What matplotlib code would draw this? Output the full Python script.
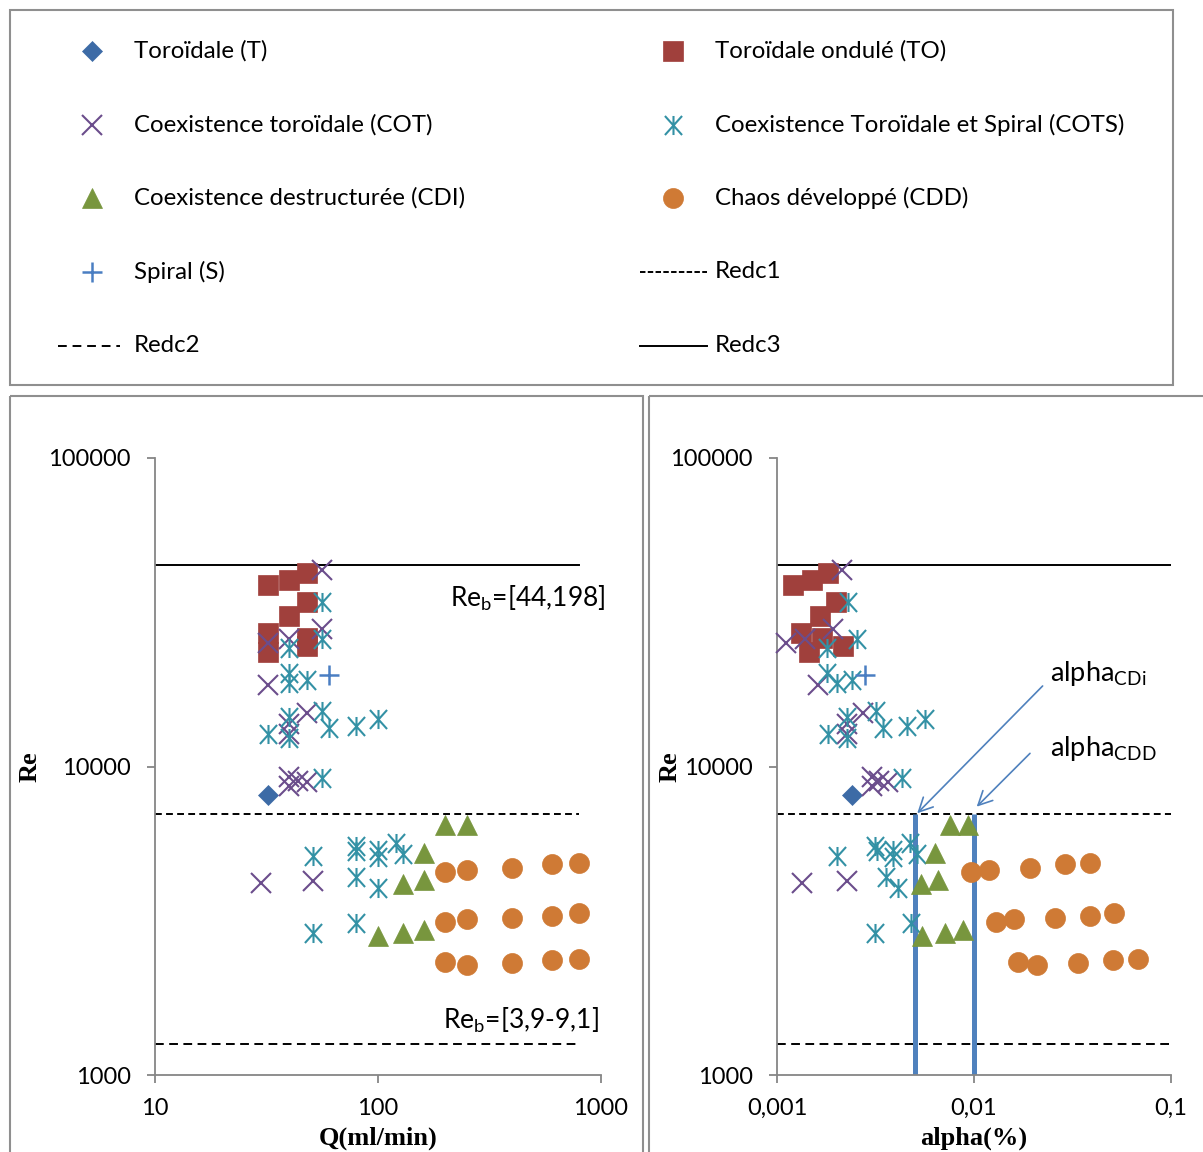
import matplotlib
matplotlib.use("Agg")
import matplotlib.pyplot as plt
from matplotlib.path import Path
from matplotlib.patches import Rectangle
from matplotlib.lines import Line2D

plt.rcParams['font.family'] = ['Lato', 'DejaVu Sans']
plt.rcParams['mathtext.fontset'] = 'custom'
plt.rcParams['mathtext.rm'] = 'Lato'

# ---------------- data ----------------
# Toroïdale (T)
T_Q = [32]
T_alpha = [0.00241]
T_Re = [8080]

# Toroïdale ondulé (TO)
TO_Q = [32, 40, 48, 48, 40, 32, 32, 48, 48]
TO_alpha = [0.00121, 0.00151, 0.00182, 0.00199, 0.00165, 0.00132, 0.00145, 0.00169, 0.00217]
TO_Re = [38760, 40230, 42490, 34210, 30740, 27030, 23560, 26040, 24580]

# Coexistence toroïdale (COT)
COT_Q = [56, 32, 40, 56, 32, 48, 40, 40, 40, 40, 44, 48, 30, 51]
COT_alpha = [0.00213, 0.00111, 0.00139, 0.00193, 0.00162, 0.00274, 0.00226, 0.00226,
             0.00302, 0.00302, 0.00330, 0.00367, 0.001335, 0.00227]
COT_Re = [43350, 25190, 25900, 27910, 18380, 14870, 13730, 12740,
          9268, 8646, 9000, 8928, 4201, 4266]

# Coexistence Toroïdale et Spiral (COTS)
COTS_Q = [56, 56, 40, 40, 40, 48, 32, 40, 40, 56, 60, 80, 100, 56,
          51, 51, 80, 80, 80, 80, 100, 100, 100, 120, 130]
COTS_alpha = [0.00230, 0.00254, 0.00180, 0.00180, 0.00201, 0.00239, 0.00182, 0.00226,
              0.00226, 0.00318, 0.00346, 0.00455, 0.00564, 0.00430,
              0.00201, 0.00314, 0.00314, 0.00321, 0.00358, 0.00479, 0.00389,
              0.00389, 0.00410, 0.00473, 0.00512]
COTS_Re = [34210, 25900, 24160, 20060, 18610, 19070, 12720, 14500, 12400, 15080,
           13300, 13560, 14260, 9157,
           5140, 2880, 5505, 5303, 4373, 3117, 5362, 5101, 4029, 5636, 5206]

# Coexistence destructurée (CDI)
CDI_Q = [200, 250, 160, 130, 160, 100, 130, 160]
CDI_alpha = [0.00755, 0.00935, 0.00634, 0.00538, 0.00659, 0.00547, 0.00713, 0.00883]
CDI_Re = [6440, 6480, 5262, 4160, 4302, 2832, 2896, 2951]

# Chaos développé (CDD)
CDD_Q = [200, 250, 400, 600, 800, 200, 250, 400, 600, 800, 200, 250, 400, 600, 800]
CDD_alpha = [0.00966, 0.01196, 0.01924, 0.02897, 0.03880,
             0.01288, 0.01596, 0.02577, 0.03880, 0.05155,
             0.01667, 0.02096, 0.03383, 0.05058, 0.06775]
CDD_Re = [4560, 4618, 4699, 4820, 4877,
          3140, 3196, 3236, 3284, 3343,
          2319, 2273, 2301, 2359, 2377]

# Spiral (S)
S_Q = [60.5]
S_alpha = [0.00280]
S_Re = [19800]

# critical Reynolds lines
Redc1 = 7000
Redc2 = 1260
Redc3 = 45000
Q_line = [10, 800]
alpha_line = [0.001, 0.1]

# alpha thresholds
alpha_CDi = 0.005
alpha_CDD = 0.01

labels = ["Toroïdale (T)", "Toroïdale ondulé (TO)", "Coexistence toroïdale (COT)",
          "Coexistence Toroïdale et Spiral (COTS)", "Coexistence destructurée (CDI)",
          "Chaos développé (CDD)", "Spiral (S)", "Redc1", "Redc2", "Redc3"]

# ---------------- styles ----------------
ast_path = Path([(0, -1), (0, 1), (-0.9, -1), (0.9, 1), (-0.9, 1), (0.9, -1)],
                [Path.MOVETO, Path.LINETO] * 3)

sty = {
    'T': dict(marker='D', ms=10.2, color='#3D6BA6', mec='#3D6BA6', mew=0.5, ls='none'),
    'TO': dict(marker='s', ms=14.4, color='#A0403C', mec='#A0403C', mew=0.5, ls='none'),
    'COT': dict(marker='x', ms=13.7, color='#6B4D8C', mew=1.5, ls='none'),
    'COTS': dict(marker=ast_path, ms=13.7, color='#3391A5', mew=1.5, ls='none'),
    'CDI': dict(marker='^', ms=14.4, color='#78963E', mec='#78963E', mew=0.5, ls='none'),
    'CDD': dict(marker='o', ms=14.4, color='#CF7A35', mec='#CF7A35', mew=0.5, ls='none'),
    'S': dict(marker='+', ms=13.7, color='#4A7EC2', mew=1.8, ls='none'),
}
line1 = dict(color='black', lw=1.4, dashes=(3.5, 2.2))
line2 = dict(color='black', lw=1.4, dashes=(4.5, 2.8))
line3 = dict(color='black', lw=1.4)

W, H = 1203, 1152
fig = plt.figure(figsize=(W / 100, H / 100), dpi=100)


def fx(px):
    return px / W


def fy(py):
    return 1 - py / H


# background canvas for frames and legend (pixel coords)
lax = fig.add_axes([0, 0, 1, 1], zorder=0)
lax.set_xlim(0, W)
lax.set_ylim(H, 0)
lax.axis('off')
frame_c = '#8f8f8f'
lax.add_patch(Rectangle((10, 10), 1163, 375, fill=False, ec=frame_c, lw=1.5))
lax.add_patch(Rectangle((10, 396), 633, 780, fill=False, ec=frame_c, lw=1.5))
lax.add_patch(Rectangle((649, 396), 600, 780, fill=False, ec=frame_c, lw=1.5))

# legend
rows = [51, 125, 198, 272, 346]
leg_fs = 17.3
left_items = [('T', labels[0]), ('COT', labels[2]), ('CDI', labels[4]), ('S', labels[6]),
              ('L2', labels[8])]
right_items = [('TO', labels[1]), ('COTS', labels[3]), ('CDD', labels[5]), ('L1', labels[7]),
               ('L3', labels[9])]
for items, mx, lx0, lx1, tx in [(left_items, 92, 58, 120, 134),
                               (right_items, 673, 640, 707, 715)]:
    for (key, lab), ry in zip(items, rows):
        if key == 'L1':
            lax.add_line(Line2D([lx0, lx1], [ry, ry], color='black', lw=1.4, dashes=(2.8, 1.2)))
        elif key == 'L2':
            lax.add_line(Line2D([lx0, lx1], [ry, ry], color='black', lw=1.4, dashes=(4.5, 3.0)))
        elif key == 'L3':
            lax.add_line(Line2D([lx0, lx1], [ry, ry], color='black', lw=1.4))
        else:
            lax.plot([mx], [ry], **sty[key])
        lax.text(tx, ry, lab, fontsize=leg_fs, va='center', ha='left')

# data axes
axh = (1075 - 458) / H
axL = fig.add_axes([fx(155), fy(1075), (601 - 155) / W, axh], zorder=1)
axR = fig.add_axes([fx(777), fy(1075), (1171 - 777) / W, axh], zorder=1)
axL.patch.set_alpha(0)
axR.patch.set_alpha(0)

for ax, xs, xline, xticks, xticklabels, xlabel in [
        (axL, dict(T=T_Q, TO=TO_Q, COT=COT_Q, COTS=COTS_Q, CDI=CDI_Q, CDD=CDD_Q, S=S_Q),
         Q_line, [10, 100, 1000], ['10', '100', '1000'], 'Q(ml/min)'),
        (axR, dict(T=T_alpha, TO=TO_alpha, COT=COT_alpha, COTS=COTS_alpha, CDI=CDI_alpha,
                   CDD=CDD_alpha, S=S_alpha),
         alpha_line, [0.001, 0.01, 0.1], ['0,001', '0,01', '0,1'], 'alpha(%)')]:
    ax.set_xscale('log')
    ax.set_yscale('log')
    ax.plot(xline, [Redc3, Redc3], zorder=1, **line3)
    ax.plot(xline, [Redc1, Redc1], zorder=1, **line1)
    ax.plot(xline, [Redc2, Redc2], zorder=1, **line2)
    ys = dict(T=T_Re, TO=TO_Re, COT=COT_Re, COTS=COTS_Re, CDI=CDI_Re, CDD=CDD_Re, S=S_Re)
    for key in ['T', 'TO', 'COT', 'COTS', 'CDI', 'CDD', 'S']:
        ax.plot(xs[key], ys[key], zorder=3, clip_on=False, **sty[key])
    ax.set_xlim(xticks[0], xticks[-1])
    ax.set_ylim(1000, 100000)
    ax.set_xticks(xticks, labels=xticklabels)
    ax.set_yticks([1000, 10000, 100000], labels=['1000', '10000', '100000'])
    ax.minorticks_off()
    for s in ['top', 'right']:
        ax.spines[s].set_visible(False)
    for s in ['left', 'bottom']:
        ax.spines[s].set_color('#868686')
        ax.spines[s].set_linewidth(1.3)
    ax.tick_params(axis='both', direction='out', length=5.5, width=1.3, color='#868686',
                   labelsize=17, labelcolor='black')
    ax.tick_params(axis='y', pad=12)
    ax.tick_params(axis='x', pad=11)
    ax.set_xlabel(xlabel, fontfamily='Liberation Serif', fontweight='bold', fontsize=19)
    ax.set_ylabel('Re', fontfamily='Liberation Serif', fontweight='bold', fontsize=19)
    ax.xaxis.label.set_va('center')
    ax.yaxis.label.set_va('center')
    ax.xaxis.set_label_coords(0.5, -0.102)

axL.yaxis.set_label_coords(-0.28, 0.5)
axR.yaxis.set_label_coords(-0.272, 0.5)

# annotations on left panel
axL.text(1.009, 35170, r'Re$_\mathregular{b}$=[44,198]', transform=axL.get_yaxis_transform(),
         ha='right', va='center', fontsize=19)
axL.text(0.995, 1508, r'Re$_\mathregular{b}$=[3,9-9,1]', transform=axL.get_yaxis_transform(),
         ha='right', va='center', fontsize=19)

# alpha thresholds on right panel
blue = '#4F81BD'
axR.plot([alpha_CDi, alpha_CDi], [1000, Redc1], color=blue, lw=3.6, zorder=2, solid_capstyle='butt')
axR.plot([alpha_CDD, alpha_CDD], [1000, Redc1], color=blue, lw=3.6, zorder=2, solid_capstyle='butt')
axR.annotate('', xy=(0.00515, 7052), xytext=(0.0223, 18240),
             arrowprops=dict(arrowstyle='->', color=blue, lw=1.2, mutation_scale=25,
                             shrinkA=0, shrinkB=0))
axR.annotate('', xy=(0.01032, 7408), xytext=(0.01924, 11030),
             arrowprops=dict(arrowstyle='->', color=blue, lw=1.2, mutation_scale=25,
                             shrinkA=0, shrinkB=0))
axR.text(0.0243, 20090, r'alpha$_\mathregular{CDi}$', ha='left', va='center', fontsize=19.5)
axR.text(0.0243, 11480, r'alpha$_\mathregular{CDD}$', ha='left', va='center', fontsize=19.5)

fig.savefig('out.png', dpi=100)
